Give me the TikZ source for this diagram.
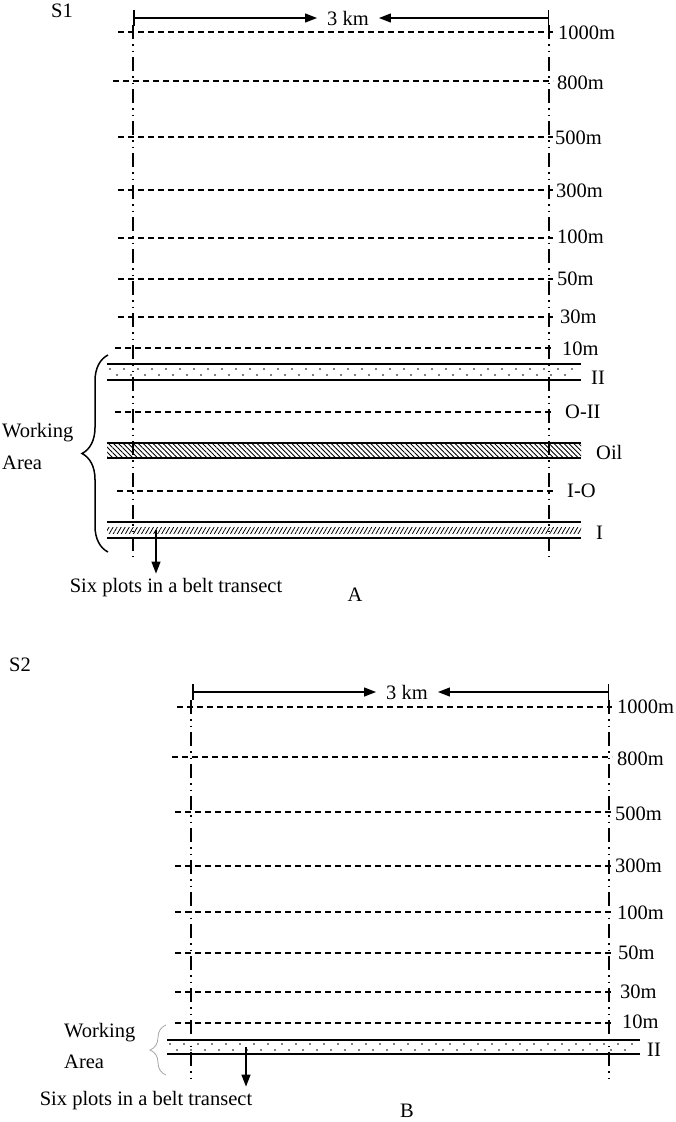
\documentclass[tikz,border=0pt]{standalone}
\usepackage{fontspec}
\setmainfont{Liberation Serif}
\usetikzlibrary{positioning,arrows.meta,patterns.meta,decorations.pathreplacing}

\tikzset{
  levelline/.style={line width=1.1pt, dash pattern=on 6pt off 4pt},
  transect/.style={line width=1.4pt, dash pattern=on 14pt off 5pt on 1.5pt off 5pt on 1.5pt off 5pt},
  bandedge/.style={line width=1.3pt},
  levellabel/.style={anchor=west},
  kmlabel/.style={inner xsep=10pt},
  kmarrow/.style={line width=1.3pt, {Bar[width=16pt,line width=1.5pt]}-{Triangle[length=12pt,width=9pt]}},
  plotarrow/.style={line width=1.3pt, -{Triangle[length=12pt,width=9pt]}, shorten >=4pt},
}

\begin{document}
\begin{tikzpicture}[x=1pt, y=-1pt, every node/.style={font=\fontsize{20.5}{24}\selectfont, inner sep=0pt}]
\useasboundingbox (0,0) rectangle (675,1122);

% Panel A
\node (sA) at (62,11) {S1};
\node[kmlabel] (kmA) at (348,18) {3 km};
\coordinate (kmAl) at (133,18);
\coordinate (kmAr) at (549,18);
\draw[kmarrow] (kmAl) -- (kmA.west);
\draw[kmarrow] (kmAr) -- (kmA.east);

% distance lines
\draw[levelline] (118,32) -- (553,32);
\draw[levelline] (113,81) -- (553,81);
\draw[levelline] (118,137) -- (553,137);
\draw[levelline] (118,190) -- (553,190);
\draw[levelline] (118,238) -- (553,238);
\draw[levelline] (118,279) -- (553,279);
\draw[levelline] (118,317) -- (553,317);
\draw[levelline] (115,348) -- (553,348);
\draw[levelline] (115,412) -- (553,412);
\draw[levelline] (117,491) -- (553,491);
\node[levellabel] (a1000) at (558,33) {1000m};
\node[levellabel] (a800) at (557,83) {800m};
\node[levellabel] (a500) at (555,138) {500m};
\node[levellabel] (a300) at (556,191) {300m};
\node[levellabel] (a100) at (557,237) {100m};
\node[levellabel] (a50) at (557,279) {50m};
\node[levellabel] (a30) at (560,317) {30m};
\node[levellabel] (a10) at (562,349) {10m};
\node[levellabel] (aOII) at (565,412) {O-II};
\node[levellabel] (aIO) at (567,491) {I-O};

% belt II
\foreach \x in {110,124,...,578} \fill (\x,369) circle (0.8pt);
\foreach \x in {117,131,...,578} \fill (\x,375) circle (0.8pt);
\draw[bandedge] (107,364) -- (581,364) (107,380) -- (581,380);
\node[levellabel] (aII) at (591,378) {II};

% oil
\fill[pattern={Lines[angle=-45,distance=3.5pt,line width=0.9pt]}] (107,443) rectangle (581,458);
\draw[bandedge] (107,443) -- (581,443) (107,458) -- (581,458);
\node[levellabel] (aOil) at (596,452) {Oil};

% belt I
\fill[pattern={Lines[angle=60,distance=3.5pt,line width=0.8pt]}] (107,527) rectangle (581,533);
\draw[bandedge] (107,522) -- (581,522) (107,538) -- (581,538);
\node[levellabel] (aI) at (596,533) {I};

\draw[transect] (133,25) -- (133,557);
\draw[transect] (549,25) -- (549,557);

\draw[decorate, decoration={brace, amplitude=26pt}, line width=1.5pt] (108,552) -- (108,355);
\node[anchor=base west] (workA) at (2,437) {Working};
\node[anchor=base west] (areaA) at (2,469) {Area};

\coordinate (plotA) at (156,530);
\node[anchor=base] (sixA) at (176,592) {Six plots in a belt transect};
\draw[plotarrow] (plotA) -- (plotA |- sixA.north);
\node[anchor=base] (capA) at (355,601) {A};

% Panel B
\node (sB) at (20,665) {S2};
\node[kmlabel] (kmB) at (407,692) {3 km};
\coordinate (kmBl) at (192,692);
\coordinate (kmBr) at (609,692);
\draw[kmarrow] (kmBl) -- (kmB.west);
\draw[kmarrow] (kmBr) -- (kmB.east);

\draw[levelline] (177,707) -- (612,707);
\draw[levelline] (172,757) -- (612,757);
\draw[levelline] (175,812) -- (612,812);
\draw[levelline] (175,866) -- (612,866);
\draw[levelline] (175,912) -- (612,912);
\draw[levelline] (175,953) -- (612,953);
\draw[levelline] (175,992) -- (612,992);
\draw[levelline] (175,1023) -- (612,1023);
\node[levellabel] (b1000) at (617,707) {1000m};
\node[levellabel] (b800) at (617,759) {800m};
\node[levellabel] (b500) at (615,814) {500m};
\node[levellabel] (b300) at (615,866) {300m};
\node[levellabel] (b100) at (617,913) {100m};
\node[levellabel] (b50) at (618,953) {50m};
\node[levellabel] (b30) at (620,992) {30m};
\node[levellabel] (b10) at (622,1022) {10m};

% belt II
\foreach \x in {170,184,...,638} \fill (\x,1044) circle (0.8pt);
\foreach \x in {177,191,...,638} \fill (\x,1050) circle (0.8pt);
\draw[bandedge] (167,1040) -- (640,1040) (167,1054) -- (640,1054);
\node[levellabel] (bII) at (647,1050) {II};

\draw[transect] (191,700) -- (191,1083);
\draw[transect] (609,700) -- (609,1083);

\draw[decorate, decoration={brace, amplitude=16pt}, line width=0.8pt, gray!70] (166,1075) -- (166,1025);
\node[anchor=base west] (workB) at (64,1037) {Working};
\node[anchor=base west] (areaB) at (64,1068) {Area};

\coordinate (plotB) at (246,1047);
\node[anchor=base] (sixB) at (146,1105) {Six plots in a belt transect};
\draw[plotarrow] (plotB) -- (plotB |- sixB.north);
\node[anchor=base] (capB) at (407,1117) {B};
\end{tikzpicture}
\end{document}
